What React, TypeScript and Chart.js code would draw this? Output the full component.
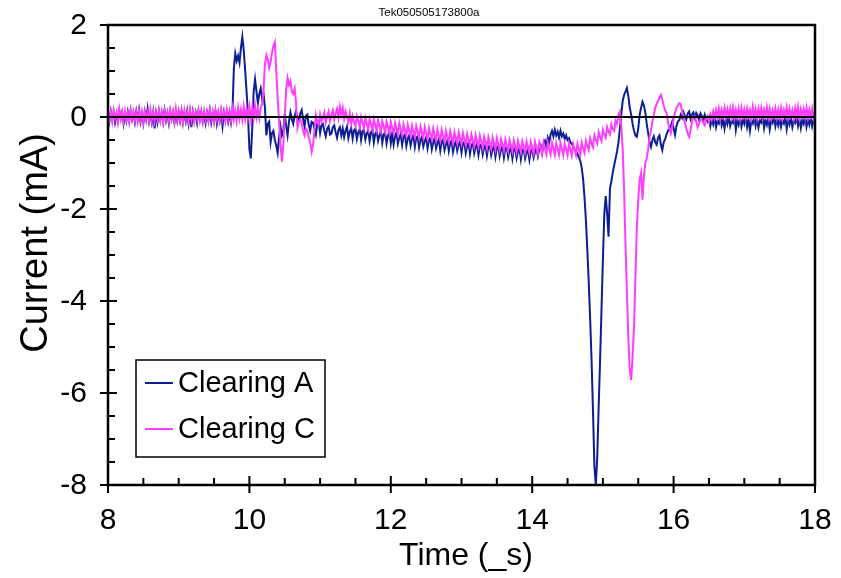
import React, { useEffect, useRef } from 'react';
import { Chart, registerables } from 'chart.js';

Chart.register(...registerables);

const CHART_TITLE = 'Tek050505173800a';
const X_TITLE = 'Time (_s)';
const Y_TITLE = 'Current (mA)';
const X_TICKS = [8, 10, 12, 14, 16, 18];
const Y_TICKS = [2, 0, -2, -4, -6, -8];
const SERIES_NAMES = ['Clearing A', 'Clearing C'];
const SERIES_COLORS = ['#0b1f92', '#ff3dff'];

// oscilloscope record: first sample time and sample interval (µs)
const SAMPLE_START = 8;
const SAMPLE_STEP = 0.02;

// Clearing A, one value per sample (mA)
const currentA = [
  0.08, -0.10, 0.12, -0.04, 0.10, -0.12, 0.05, -0.08, 0.14, -0.03, 0.09, -0.14, 0.06, -0.09, 0.11, -0.07, 0.13, -0.05, 0.08, -0.11, 0.12, -0.06, 0.15, -0.10, 0.07,
  -0.13, 0.11, -0.05, 0.18, -0.09, 0.06, -0.12, 0.10, -0.25, 0.08, -0.11, 0.12, -0.06, 0.09, -0.10, 0.14, -0.08, 0.07, -0.13, 0.11, -0.05, 0.09, -0.12, 0.06, -0.09,
  0.10, -0.08, 0.13, -0.11, 0.07, -0.09, 0.12, -0.14, 0.08, -0.22, 0.10, -0.07, 0.09, -0.12, 0.13, -0.05, 0.11, -0.10, 0.06, -0.13, 0.09, -0.07, 0.14, -0.11, 0.08,
  -0.09, 0.12, -0.14, 0.07, -0.08, 0.10, -0.20, 0.09, -0.06, 0.11, -0.10, 0.08, -0.12, 0.09, 1.05, 1.38, 1.22, 1.33, 1.18, 1.50, 1.74, 1.45, 1.02, 0.55, 0.05,
  -0.70, -0.90, -0.25, 0.55, 0.82, 0.55, 0.30, 0.50, 0.62, 0.40, 0.50, 0.20, -0.40, -0.15, -0.10, -0.55, -0.35, -0.30, -0.50, -0.62, -0.78, -0.45, -0.20, -0.40, -0.30,
  0.08, -0.20, -0.40, -0.10, 0.10, -0.05, -0.15, 0.02, 0.12, -0.10, -0.05, 0.08, 0.15, -0.05, -0.20, 0.02, 0.05, -0.18, -0.30, -0.10, -0.12, -0.25, -0.38, -0.15, -0.10,
  -0.35, -0.18, -0.15, -0.30, -0.42, -0.25, -0.20, -0.38, -0.36, -0.22, -0.18, -0.33, -0.45, -0.28, -0.22, -0.40, -0.25, -0.44, -0.30, -0.21, -0.46, -0.32, -0.24, -0.47, -0.29,
  -0.25, -0.48, -0.33, -0.26, -0.50, -0.30, -0.28, -0.49, -0.36, -0.29, -0.52, -0.34, -0.28, -0.55, -0.37, -0.31, -0.52, -0.40, -0.30, -0.56, -0.38, -0.33, -0.58, -0.41, -0.32,
  -0.57, -0.36, -0.60, -0.42, -0.34, -0.58, -0.45, -0.37, -0.61, -0.43, -0.38, -0.63, -0.47, -0.40, -0.62, -0.48, -0.39, -0.65, -0.45, -0.42, -0.66, -0.50, -0.43, -0.64, -0.52,
  -0.44, -0.68, -0.51, -0.45, -0.70, -0.55, -0.46, -0.68, -0.57, -0.48, -0.73, -0.54, -0.49, -0.72, -0.60, -0.50, -0.74, -0.57, -0.51, -0.76, -0.62, -0.52, -0.73, -0.60, -0.53,
  -0.77, -0.58, -0.54, -0.78, -0.63, -0.55, -0.80, -0.61, -0.57, -0.79, -0.66, -0.58, -0.82, -0.63, -0.59, -0.81, -0.67, -0.60, -0.84, -0.65, -0.61, -0.83, -0.70, -0.62, -0.86,
  -0.66, -0.63, -0.85, -0.71, -0.64, -0.88, -0.68, -0.65, -0.87, -0.73, -0.66, -0.90, -0.70, -0.67, -0.89, -0.75, -0.68, -0.92, -0.72, -0.69, -0.90, -0.77, -0.70, -0.93, -0.74,
  -0.71, -0.88, -0.76, -0.68, -0.85, -0.70, -0.62, -0.78, -0.60, -0.52, -0.66, -0.45, -0.55, -0.38, -0.30, -0.42, -0.28, -0.40, -0.32, -0.45, -0.30, -0.42, -0.36, -0.48, -0.40,
  -0.50, -0.46, -0.55, -0.58, -0.65, -0.70, -0.75, -0.80, -0.88, -0.95, -1.10, -1.35, -1.75, -2.25, -2.90, -3.60, -4.40, -5.30, -6.40, -7.60, -8.00, -7.40, -6.30, -5.30, -4.20,
  -3.10, -2.10, -1.72, -2.10, -2.60, -1.55, -1.40, -1.20, -1.05, -0.90, -0.75, -0.55, -0.25, 0.05, 0.35, 0.48, 0.55, 0.63, 0.45, 0.20, 0.05, -0.15, -0.30, -0.40, -0.43,
  -0.25, 0.05, 0.20, 0.33, 0.25, 0.10, -0.15, -0.35, -0.55, -0.65, -0.50, -0.42, -0.55, -0.60, -0.45, -0.40, -0.60, -0.72, -0.55, -0.48, -0.38, -0.30, -0.25, -0.20, -0.10,
  -0.25, -0.39, -0.20, -0.10, -0.07, 0.05, -0.02, 0.10, 0.02, -0.05, 0.08, 0.12, -0.04, 0.06, 0.10, -0.02, 0.09, 0.04, -0.06, 0.08, 0.02, -0.08, 0.05, -0.05, -0.10,
  -0.02, -0.20, -0.05, -0.16, 0.00, -0.22, -0.08, -0.14, 0.02, -0.18, -0.06, -0.25, -0.03, -0.15, 0.01, -0.20, -0.09, -0.13, 0.03, -0.28, -0.07, -0.17, -0.01, -0.21, -0.06,
  -0.15, 0.01, -0.22, -0.05, -0.30, -0.08, -0.14, 0.02, -0.19, -0.04, -0.23, -0.07, -0.12, 0.03, -0.24, -0.06, -0.17, -0.02, -0.27, -0.08, -0.13, 0.02, -0.20, -0.05, -0.18,
  -0.03, -0.21, -0.07, -0.14, 0.02, -0.26, -0.05, -0.16, -0.01, -0.22, -0.08, -0.13, 0.01, -0.19, -0.04, -0.24, -0.06, -0.15, 0.02, -0.21, -0.05, -0.17, -0.02, -0.20, -0.06,
  -0.12,
];

// Clearing C, one value per sample (mA)
const currentC = [
  0.15, -0.06, 0.12, -0.10, 0.14, -0.04, 0.10, -0.12, 0.16, -0.05, 0.11, -0.09, 0.13, -0.07, 0.09, -0.11, 0.15, -0.04, 0.12, -0.08, 0.10, -0.10, 0.14, -0.06, 0.11,
  -0.12, 0.13, -0.05, 0.10, -0.09, 0.16, -0.07, 0.12, -0.10, 0.09, -0.05, 0.14, -0.08, 0.11, -0.11, 0.13, -0.06, 0.10, -0.09, 0.15, -0.04, 0.12, -0.10, 0.18, -0.06,
  0.13, -0.08, 0.11, -0.12, 0.14, -0.05, 0.10, -0.09, 0.16, -0.07, 0.12, -0.10, 0.09, -0.05, 0.14, -0.08, 0.11, -0.11, 0.13, -0.06, 0.10, -0.09, 0.15, -0.04, 0.12,
  -0.10, 0.14, -0.06, 0.11, -0.08, 0.16, -0.05, 0.12, -0.09, 0.15, -0.04, 0.13, -0.07, 0.18, -0.05, 0.14, -0.08, 0.20, -0.03, 0.16, -0.06, 0.22, -0.04, 0.18, -0.02,
  0.22, -0.05, 0.20, -0.02, 0.25, 0.00, 0.18, -0.02, 0.20, 0.28, 0.60, 1.15, 1.35, 1.25, 1.07, 1.20, 1.40, 1.55, 1.63, 1.00, 0.40, -0.10, -0.60, -0.97, -0.60,
  0.00, 0.60, 0.85, 0.70, 0.78, 0.55, 0.50, 0.62, 0.30, -0.24, -0.10, -0.05, -0.15, -0.30, -0.40, -0.25, -0.30, -0.45, -0.55, -0.76, -0.60, -0.30, 0.04, -0.10, -0.17,
  0.05, -0.10, -0.02, 0.10, -0.12, 0.02, 0.12, -0.08, 0.05, 0.15, -0.05, 0.08, 0.18, -0.02, 0.22, 0.05, 0.20, -0.04, 0.12, 0.00, -0.10, 0.08, -0.15, 0.02, -0.12,
  -0.20, 0.02, -0.08, -0.22, 0.00, -0.12, -0.25, -0.02, -0.14, -0.27, -0.04, -0.16, -0.28, -0.05, -0.18, -0.30, -0.07, -0.20, -0.32, -0.09, -0.21, -0.33, -0.10, -0.22, -0.35,
  -0.11, -0.24, -0.36, -0.13, -0.26, -0.38, -0.14, -0.27, -0.39, -0.16, -0.29, -0.41, -0.17, -0.30, -0.42, -0.19, -0.32, -0.44, -0.20, -0.33, -0.45, -0.21, -0.34, -0.46, -0.22,
  -0.36, -0.48, -0.24, -0.37, -0.49, -0.25, -0.39, -0.51, -0.27, -0.40, -0.52, -0.28, -0.42, -0.54, -0.30, -0.43, -0.55, -0.31, -0.44, -0.57, -0.33, -0.46, -0.58, -0.34, -0.47,
  -0.59, -0.35, -0.48, -0.61, -0.37, -0.50, -0.62, -0.38, -0.51, -0.64, -0.40, -0.53, -0.65, -0.41, -0.54, -0.67, -0.43, -0.55, -0.68, -0.44, -0.57, -0.69, -0.45, -0.58, -0.71,
  -0.46, -0.59, -0.72, -0.48, -0.60, -0.73, -0.49, -0.62, -0.74, -0.50, -0.63, -0.75, -0.51, -0.64, -0.76, -0.52, -0.65, -0.77, -0.53, -0.65, -0.78, -0.53, -0.66, -0.78, -0.54,
  -0.67, -0.79, -0.54, -0.67, -0.80, -0.55, -0.68, -0.80, -0.55, -0.68, -0.81, -0.56, -0.69, -0.81, -0.56, -0.69, -0.82, -0.57, -0.70, -0.82, -0.57, -0.70, -0.83, -0.58, -0.70,
  -0.83, -0.58, -0.71, -0.84, -0.59, -0.71, -0.83, -0.58, -0.70, -0.82, -0.56, -0.68, -0.78, -0.52, -0.63, -0.72, -0.46, -0.57, -0.66, -0.40, -0.50, -0.58, -0.33, -0.44, -0.52,
  -0.28, -0.38, -0.45, -0.22, -0.32, -0.38, -0.16, -0.26, -0.30, -0.08, -0.15, 0.05, 0.12, -0.20, -0.70, -1.60, -2.80, -3.83, -4.80, -5.50, -5.72, -5.20, -4.57, -3.50, -2.39,
  -1.80, -1.35, -1.22, -1.80, -1.30, -1.00, -0.90, -0.70, -0.43, -0.30, -0.10, 0.05, 0.20, 0.28, 0.35, 0.42, 0.48, 0.38, 0.25, 0.15, 0.09, -0.10, -0.25, -0.35, -0.20,
  -0.05, 0.10, 0.20, 0.25, 0.30, 0.28, 0.12, 0.00, -0.12, -0.25, -0.35, -0.43, -0.30, -0.10, 0.00, 0.02, -0.10, -0.22, -0.15, -0.05, -0.05, -0.12, -0.18, -0.02, 0.02,
  -0.10, 0.06, -0.05, 0.12, -0.02, 0.15, 0.00, 0.18, -0.03, 0.16, 0.02, 0.20, -0.01, 0.17, 0.03, 0.19, 0.00, 0.21, -0.02, 0.16, 0.01, 0.18, -0.03, 0.20, 0.02,
  0.17, -0.01, 0.19, 0.03, 0.15, -0.02, 0.22, 0.01, 0.17, -0.03, 0.18, 0.02, 0.20, -0.01, 0.16, 0.03, 0.21, 0.00, 0.18, -0.02, 0.15, 0.02, 0.19, -0.01, 0.17,
  0.00, 0.20, -0.02, 0.16, 0.03, 0.21, -0.01, 0.18, 0.02, 0.15, -0.03, 0.19, 0.01, 0.22, -0.02, 0.17, 0.03, 0.18, 0.00, 0.20, -0.01, 0.16, 0.02, 0.19, -0.02,
  0.12,
];

const sampleTime = (i: number) => Math.round((SAMPLE_START + i * SAMPLE_STEP) * 100) / 100;

const FONT = '"Liberation Sans", Arial, Helvetica, sans-serif';

const framePlugin = {
  id: 'framePlugin',
  afterDatasetsDraw(chart: any) {
    const { ctx, chartArea: a, scales } = chart;
    const x = scales.x;
    const y = scales.y;
    ctx.save();
    ctx.strokeStyle = '#000';
    ctx.fillStyle = '#000';

    const y0 = y.getPixelForValue(0);
    ctx.lineWidth = 2;
    ctx.beginPath();
    ctx.moveTo(a.left, y0);
    ctx.lineTo(a.right, y0);
    ctx.stroke();

    ctx.lineWidth = 2.5;
    ctx.strokeRect(a.left, a.top, a.right - a.left, a.bottom - a.top);

    ctx.lineWidth = 2;
    ctx.beginPath();
    const xMin = X_TICKS[0];
    const xMax = X_TICKS[X_TICKS.length - 1];
    for (let k = 0; k <= (xMax - xMin) * 2; k++) {
      const px = x.getPixelForValue(xMin + k * 0.5);
      const major = k % 4 === 0;
      ctx.moveTo(px, a.bottom - (major ? 9 : 7));
      ctx.lineTo(px, a.bottom + (major ? 8 : 0));
    }
    const yMin = Y_TICKS[Y_TICKS.length - 1];
    const yMax = Y_TICKS[0];
    for (let k = 0; k <= (yMax - yMin) * 2; k++) {
      const py = y.getPixelForValue(yMin + k * 0.5);
      const major = k % 4 === 0;
      ctx.moveTo(a.left - (major ? 8 : 0), py);
      ctx.lineTo(a.left + (major ? 9 : 7), py);
    }
    ctx.stroke();

    ctx.font = `30px ${FONT}`;
    ctx.textAlign = 'center';
    ctx.textBaseline = 'middle';
    X_TICKS.forEach((v) => {
      ctx.fillText(String(v), x.getPixelForValue(v), a.bottom + 36);
    });
    ctx.textAlign = 'right';
    Y_TICKS.forEach((v) => {
      ctx.fillText(String(v), a.left - 21, y.getPixelForValue(v) + 1);
    });

    ctx.font = `32px ${FONT}`;
    ctx.textAlign = 'center';
    ctx.fillText(X_TITLE, 466, a.bottom + 71);
    ctx.save();
    ctx.font = `38px ${FONT}`;
    ctx.translate(37, 243);
    ctx.rotate(-Math.PI / 2);
    ctx.fillText(Y_TITLE, 0, 0);
    ctx.restore();

    ctx.font = `11.5px ${FONT}`;
    ctx.fillText(CHART_TITLE, 429, 13);

    const lx = 136, ly = 360, lw = 189, lh = 97;
    ctx.fillStyle = '#fff';
    ctx.fillRect(lx, ly, lw, lh);
    ctx.lineWidth = 1.5;
    ctx.strokeStyle = '#000';
    ctx.strokeRect(lx, ly, lw, lh);
    ctx.font = `29px ${FONT}`;
    ctx.textAlign = 'left';
    SERIES_NAMES.forEach((name, i) => {
      const yy = ly + 23 + i * 46;
      ctx.strokeStyle = SERIES_COLORS[i];
      ctx.lineWidth = 2;
      ctx.beginPath();
      ctx.moveTo(lx + 9, yy);
      ctx.lineTo(lx + 37, yy);
      ctx.stroke();
      ctx.fillStyle = '#000';
      ctx.fillText(name, lx + 42, yy + 1);
    });
    ctx.restore();
  },
};

export default function App() {
  const ref = useRef<HTMLCanvasElement | null>(null);
  useEffect(() => {
    document.body.style.margin = '0';
    const canvas = ref.current;
    if (!canvas) return;
    const chart = new Chart(canvas, {
      type: 'line',
      data: {
        datasets: [
          {
            label: SERIES_NAMES[0],
            data: currentA.map((v, i) => ({ x: sampleTime(i), y: v })),
            borderColor: SERIES_COLORS[0],
            borderWidth: 2,
            pointRadius: 0,
            tension: 0,
            order: 2,
          },
          {
            label: SERIES_NAMES[1],
            data: currentC.map((v, i) => ({ x: sampleTime(i), y: v })),
            borderColor: SERIES_COLORS[1],
            borderWidth: 2,
            pointRadius: 0,
            tension: 0,
            order: 1,
          },
        ],
      },
      options: {
        animation: false,
        responsive: false,
        maintainAspectRatio: false,
        layout: { padding: { left: 108, right: 26, top: 25, bottom: 93 } },
        plugins: { legend: { display: false }, title: { display: false }, tooltip: { enabled: false } },
        scales: {
          x: { type: 'linear', min: 8, max: 18, display: false },
          y: { type: 'linear', min: -8, max: 2, display: false },
        },
      },
      plugins: [framePlugin],
    });
    return () => chart.destroy();
  }, []);
  return (
    <div style={{ width: 841, height: 578, background: '#fff' }}>
      <canvas ref={ref} width={841} height={578} style={{ display: 'block' }} />
    </div>
  );
}
